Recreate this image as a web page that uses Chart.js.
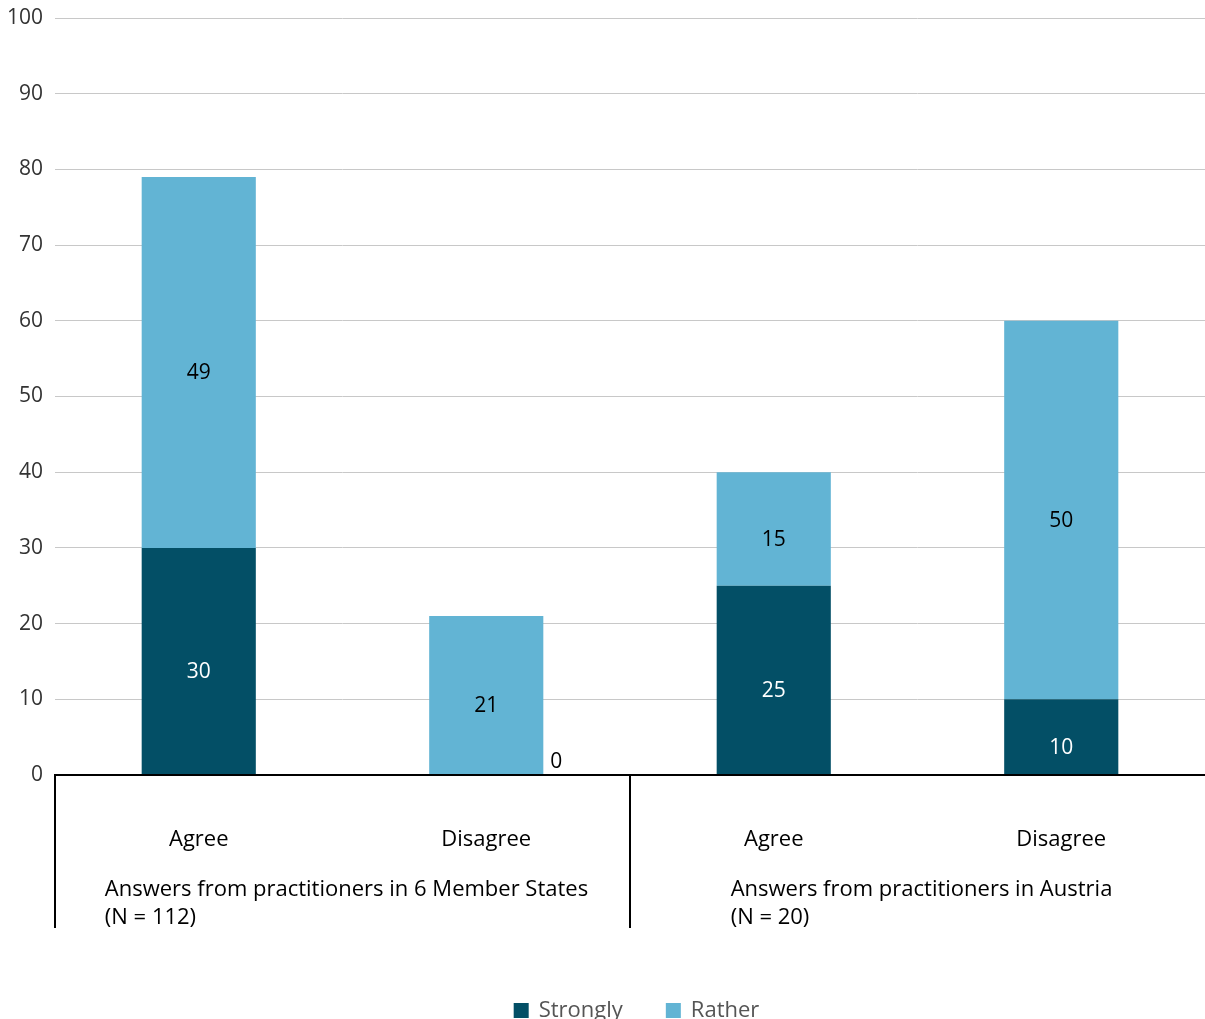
<!DOCTYPE html>
<html>
<head>
<meta charset="utf-8">
<script src="https://cdn.jsdelivr.net/npm/chart.js@4"></script>
<style>
  html, body { margin: 0; padding: 0; background: #fff; overflow: hidden; }
  #wrap { width: 1205px; height: 1019px; }
</style>
</head>
<body>
<div id="wrap"><canvas id="chart" width="1205" height="1019"></canvas></div>
<script>
// categories and groups
const categories = ['Agree', 'Disagree', 'Agree', 'Disagree'];
const groupLabels = [
    ['Answers from practitioners in 6 Member States', '(N = 112)'],
    ['Answers from practitioners in Austria', '(N = 20)']
];

// series values (%)
const seriesNames = ['Strongly', 'Rather'];
const stronglyValues = [30, 0, 25, 10];
const ratherValues = [49, 21, 15, 50];

const yTicks = [0, 10, 20, 30, 40, 50, 60, 70, 80, 90, 100];

const FONT = '"Open Sans", "Noto Sans", sans-serif';
const COLORS = ['#034f66', '#62b4d4'];

// value labels inside the bars
const barLabels = {
    id: 'barLabels',
    afterDatasetsDraw(chart) {
        const ctx = chart.ctx;
        ctx.save();
        ctx.font = '500 21px ' + FONT;
        ctx.textBaseline = 'middle';
        chart.data.datasets.forEach((ds, di) => {
            const meta = chart.getDatasetMeta(di);
            meta.data.forEach((bar, i) => {
                const v = ds.data[i];
                if (v === 0) {
                    // empty segment: label sits beside the bar, on the axis
                    ctx.fillStyle = '#000';
                    ctx.textAlign = 'left';
                    ctx.fillText(String(v), bar.x + bar.width / 2 + 7, bar.y - 13);
                    return;
                }
                ctx.fillStyle = di === 0 ? '#fff' : '#000';
                ctx.textAlign = 'center';
                ctx.fillText(String(v), bar.x, (bar.y + bar.base) / 2 + 11);
            });
        });
        ctx.restore();
    }
};

// axis line, group separators and group captions below the x axis
const groupAxis = {
    id: 'groupAxis',
    afterDraw(chart) {
        const ctx = chart.ctx;
        const x = chart.scales.x;
        const area = chart.chartArea;
        const left = area.left;
        const mid = (x.getPixelForValue(1) + x.getPixelForValue(2)) / 2;
        const right = area.right;
        ctx.save();
        ctx.strokeStyle = '#000';
        ctx.lineWidth = 2;
        ctx.beginPath();
        ctx.moveTo(left - 1, area.bottom);
        ctx.lineTo(right, area.bottom);
        [left, mid].forEach(px => {
            ctx.moveTo(px, area.bottom);
            ctx.lineTo(px, area.bottom + 153);
        });
        ctx.stroke();

        ctx.font = '500 22px ' + FONT;
        ctx.fillStyle = '#000';
        ctx.textAlign = 'left';
        ctx.textBaseline = 'middle';
        const spans = [[left, mid], [mid, right]];
        groupLabels.forEach((lines, g) => {
            const w = Math.max(...lines.map(l => ctx.measureText(l).width));
            const cx = (spans[g][0] + spans[g][1]) / 2;
            const sx = cx - w / 2 + 4;
            lines.forEach((l, k) => {
                ctx.fillText(l, sx, area.bottom + 115 + k * 28);
            });
        });
        ctx.restore();
    }
};

// legend under the chart, partly cut by the bottom edge like the original
const bottomLegend = {
    id: 'bottomLegend',
    afterDraw(chart) {
        const ctx = chart.ctx;
        ctx.save();
        ctx.font = '22px ' + FONT;
        ctx.textBaseline = 'middle';
        ctx.textAlign = 'left';
        const box = 15, gap = 10, between = 43;
        const widths = seriesNames.map(n => ctx.measureText(n).width);
        const total = widths.reduce((a, w) => a + box + gap + w, 0) + between;
        let px = chart.width / 2 + 34 - total / 2;
        const y = 1011;
        seriesNames.forEach((n, i) => {
            ctx.fillStyle = COLORS[i];
            ctx.fillRect(px, y - 8, box, box);
            ctx.fillStyle = '#555';
            ctx.fillText(n, px + box + gap, y);
            px += box + gap + widths[i] + between;
        });
        ctx.restore();
    }
};

new Chart(document.getElementById('chart'), {
    type: 'bar',
    data: {
        labels: categories,
        datasets: [
            { label: seriesNames[0], data: stronglyValues, backgroundColor: COLORS[0] },
            { label: seriesNames[1], data: ratherValues, backgroundColor: COLORS[1] }
        ]
    },
    options: {
        responsive: false,
        animation: false,
        layout: { padding: { top: 18, right: 0, left: 0, bottom: 84 } },
        datasets: { bar: { barPercentage: 0.397, categoryPercentage: 1.0 } },
        plugins: {
            legend: { display: false },
            tooltip: { enabled: false }
        },
        scales: {
            x: {
                stacked: true,
                grid: { display: false },
                border: { display: false },
                ticks: {
                    color: '#000',
                    padding: 44,
                    font: { family: FONT, size: 22, weight: '500' }
                },
                afterFit: (scale) => {
                    scale.height = 160;
                    scale.paddingLeft = 0;
                    scale.paddingRight = 0;
                }
            },
            y: {
                stacked: true,
                min: 0,
                max: 100,
                afterBuildTicks: (scale) => { scale.ticks = yTicks.map(v => ({ value: v })); },
                grid: { color: '#c8c8c8', lineWidth: 1, drawTicks: false },
                border: { display: false },
                ticks: {
                    color: '#333',
                    padding: 12,
                    font: { family: FONT, size: 21 }
                },
                afterFit: (scale) => {
                    scale.width = 55;
                    scale.paddingTop = 0;
                    scale.paddingBottom = 0;
                }
            }
        }
    },
    plugins: [barLabels, groupAxis, bottomLegend]
});
</script>
</body>
</html>
